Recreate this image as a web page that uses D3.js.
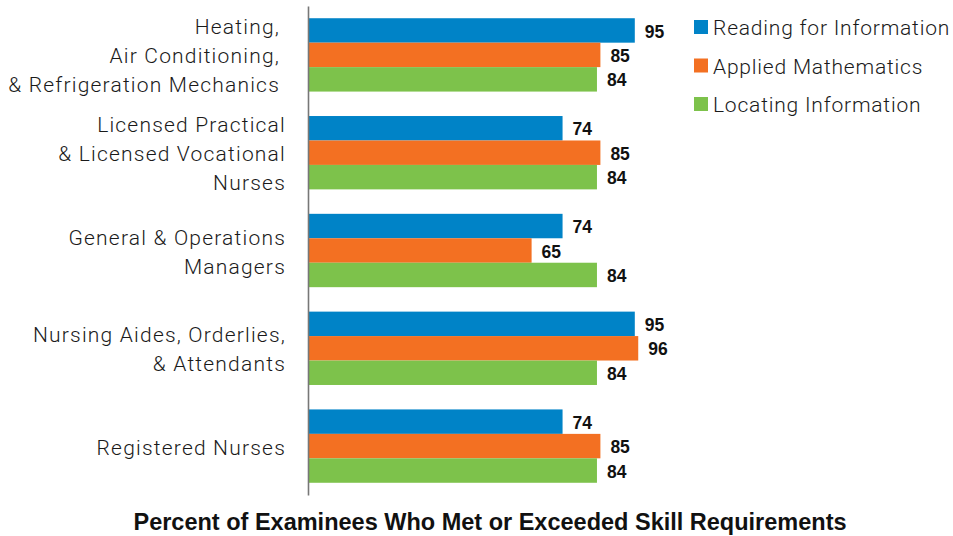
<!DOCTYPE html>
<html>
<head>
<meta charset="utf-8">
<script src="https://cdn.jsdelivr.net/npm/d3@7"></script>
<style>
  body { margin: 0; background: #fff; }
  .cat-label { font-family: Roboto, "Liberation Sans", sans-serif; font-weight: 300; font-size: 21px; letter-spacing: 1.2px; fill: #1a1a1a; }
  .legend-label { font-family: Roboto, "Liberation Sans", sans-serif; font-weight: 300; font-size: 21px; letter-spacing: 0.8px; fill: #1a1a1a; }
  .value-label { font-family: "Liberation Sans", Arial, sans-serif; font-weight: bold; font-size: 17.5px; fill: #111; }
  .axis-title { font-family: "Liberation Sans", Arial, sans-serif; font-weight: bold; font-size: 23.5px; fill: #111; }
</style>
</head>
<body>
<div id="d3-container"></div>
<script>
/**
 * CONSTANTS AND GLOBALS
 * */
const width = 953,
  height = 536,
  margin = { top: 6, bottom: 41, left: 308, right: 301 };

// categories, each with its label lines
const categories = [
  "HVAC Mechanics",
  "LPN & LVN",
  "General & Operations Managers",
  "Nursing Aides",
  "Registered Nurses"
];
const categoryLines = [
  ["Heating,", "Air Conditioning,", "& Refrigeration Mechanics"],
  ["Licensed Practical", "& Licensed Vocational", "Nurses"],
  ["General & Operations", "Managers"],
  ["Nursing Aides, Orderlies,", "& Attendants"],
  ["Registered Nurses"]
];

// series
const seriesNames = ["Reading for Information", "Applied Mathematics", "Locating Information"];
const seriesColors = ["#0083c7", "#f37022", "#7dc24b"];
const readingValues = [95, 74, 74, 95, 74];
const mathValues = [85, 85, 65, 96, 85];
const locatingValues = [84, 84, 84, 84, 84];

const axisTitle = "Percent of Examinees Who Met or Exceeded Skill Requirements";

// long format table for drawing
const seriesValues = [readingValues, mathValues, locatingValues];
const data = [];
categories.forEach((c, i) => {
  seriesNames.forEach((s, j) => {
    data.push({ category: c, series: s, value: seriesValues[j][i] });
  });
});

const svg = d3
  .select("#d3-container")
  .append("svg")
  .attr("width", width)
  .attr("height", height);

// SCALES
const xScale = d3
  .scaleLinear()
  .domain([0, 100])
  .range([margin.left, 652]);

const yScale = d3
  .scaleBand()
  .domain(categories)
  .range([margin.top, height - margin.bottom])
  .paddingInner(0.25)
  .paddingOuter(0.125);

const ySub = d3
  .scaleBand()
  .domain(seriesNames)
  .range([0, yScale.bandwidth()]);

const color = d3.scaleOrdinal().domain(seriesNames).range(seriesColors);

// BARS
const groups = svg
  .selectAll(".group")
  .data(categories)
  .join("g")
  .attr("class", "group")
  .attr("transform", d => `translate(0,${yScale(d)})`);

groups
  .selectAll("rect")
  .data(c => data.filter(d => d.category === c))
  .join("rect")
  .attr("x", xScale(0))
  .attr("y", d => ySub(d.series))
  .attr("width", d => xScale(d.value) - xScale(0))
  .attr("height", ySub.bandwidth())
  .attr("fill", d => color(d.series));

// value labels
groups
  .selectAll(".value-label")
  .data(c => data.filter(d => d.category === c))
  .join("text")
  .attr("class", "value-label")
  .attr("x", d => xScale(d.value) + 10)
  .attr("y", d => ySub(d.series) + ySub.bandwidth() / 2 + 1)
  .attr("dy", "0.35em")
  .text(d => d.value);

// AXIS (plain left line, no ticks)
const yAxis = d3.axisLeft(yScale).tickSize(0).tickFormat("");
svg
  .append("g")
  .attr("class", "axis y-axis")
  .attr("transform", `translate(${margin.left},0)`)
  .call(yAxis)
  .call(g => g.select(".domain").attr("stroke", "#777").attr("stroke-width", 1.6));

// category labels
const lineHeight = 29;
svg
  .selectAll(".cat-label")
  .data(categories)
  .join("text")
  .attr("class", "cat-label")
  .attr("text-anchor", "end")
  .attr("y", d => yScale(d) + yScale.bandwidth() / 2 + 1.5)
  .each(function(d, i) {
    const lines = categoryLines[i];
    const top = -((lines.length - 1) * lineHeight) / 2;
    d3.select(this)
      .selectAll("tspan")
      .data(lines)
      .join("tspan")
      .attr("x", i === 0 ? 280 : 286)
      .attr("dy", (l, k) => (k === 0 ? top + 7 : lineHeight))
      .text(l => l);
  });

// LEGEND
const legend = svg
  .selectAll(".legend")
  .data(seriesNames)
  .join("g")
  .attr("class", "legend")
  .attr("transform", (d, i) => `translate(694,${28 + i * 38.5})`);

legend
  .append("rect")
  .attr("x", 0)
  .attr("y", -8)
  .attr("width", 14)
  .attr("height", 14)
  .attr("fill", d => color(d));

legend
  .append("text")
  .attr("class", "legend-label")
  .attr("x", 19)
  .attr("y", 0)
  .attr("dy", "0.35em")
  .text(d => d);

// axis title
svg
  .append("text")
  .attr("class", "axis-title")
  .attr("x", 490)
  .attr("y", 521.5)
  .attr("dy", "0.35em")
  .attr("text-anchor", "middle")
  .text(axisTitle);
</script>
</body>
</html>
